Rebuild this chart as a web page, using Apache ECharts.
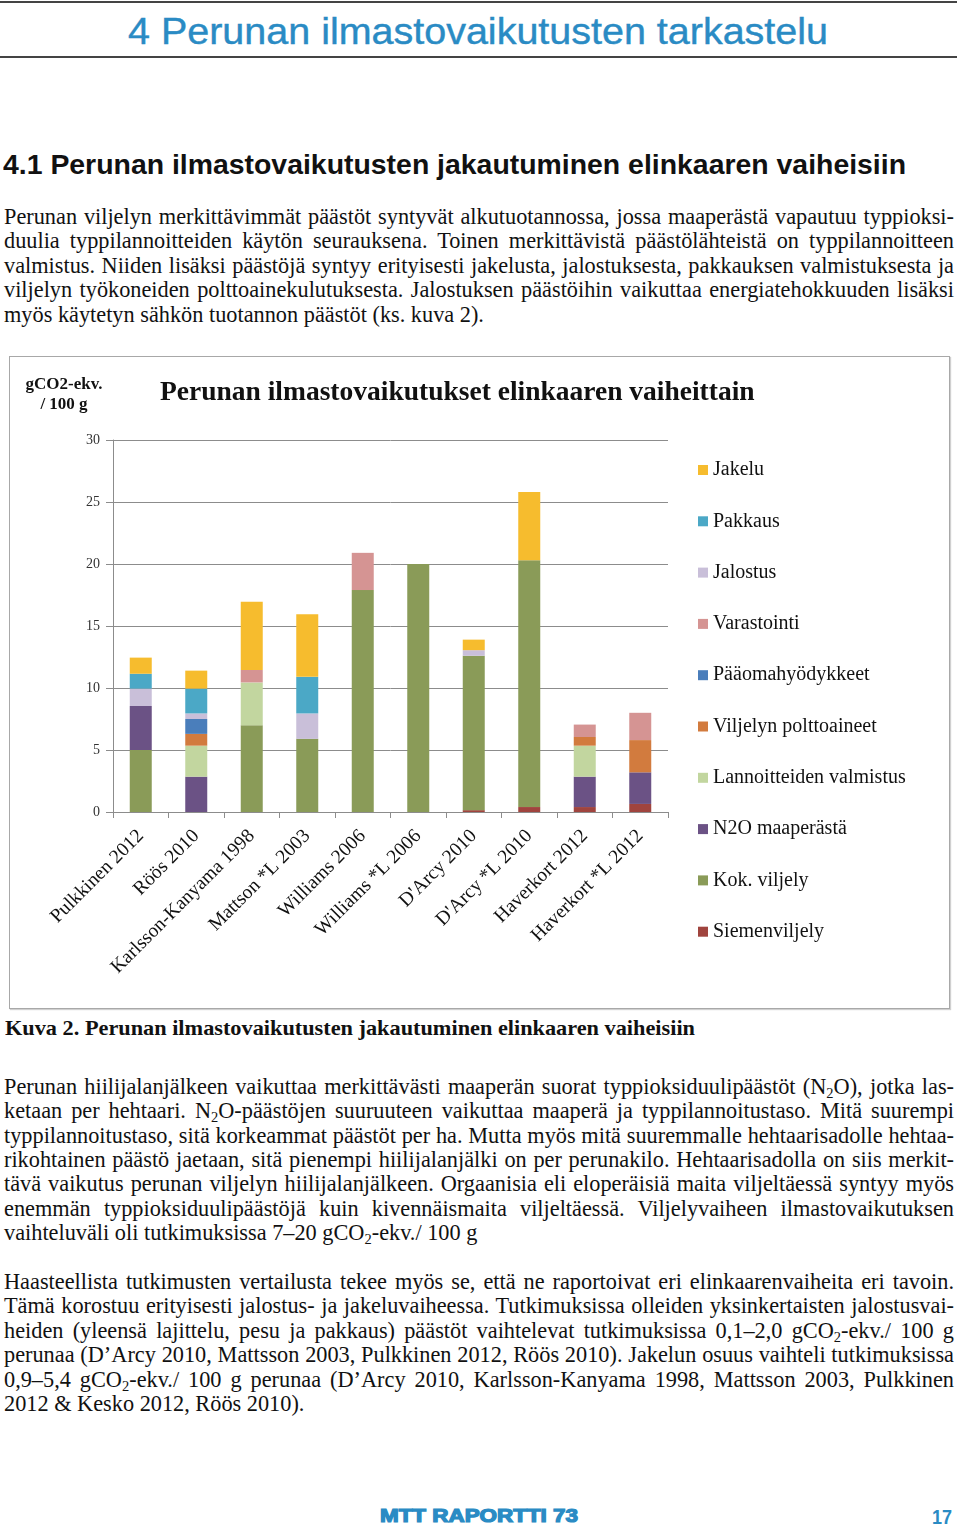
<!DOCTYPE html>
<html>
<head>
<meta charset="utf-8">
<script src="https://cdn.jsdelivr.net/npm/echarts@6/dist/echarts.min.js"></script>
<style>
  html, body { margin: 0; padding: 0; background: #fff; }
  body { width: 960px; height: 1526px; position: relative; overflow: hidden; }
  .ln { position: absolute; white-space: nowrap; }
  .serif { font-family: "Liberation Serif", "Times New Roman", serif; color: #111; }
  .sans { font-family: "Liberation Sans", Arial, sans-serif; }
  .rule { position: absolute; left: 0; width: 957px; background: #444; }
  sub { font-size: 0.65em; vertical-align: -0.25em; line-height: 0; }
  #box { position: absolute; left: 9px; top: 356px; width: 941px; height: 653px; box-sizing: border-box;
         border: 1.5px solid #a8a8a8; box-shadow: 1px 1px 1px #d0d0d0; }
  #chart { position: absolute; left: 10px; top: 357px; width: 940px; height: 652px; }
</style>
</head>
<body>
<div class="rule" style="top:1px;height:2px;"></div>
<div class="ln sans fit" data-x="128" data-w="700" data-cy="31" style="font-size:36px;color:#2a8bc4;-webkit-text-stroke:0.4px #2a8bc4;">4 Perunan ilmastovaikutusten tarkastelu</div>
<div class="rule" style="top:56px;height:2px;"></div>

<div class="ln sans fit" data-x="3" data-w="903" data-cy="165" style="font-size:28px;font-weight:bold;color:#111;">4.1 Perunan ilmastovaikutusten jakautuminen elinkaaren vaiheisiin</div>

<div class="ln serif just" data-cy="217">Perunan viljelyn merkittävimmät päästöt syntyvät alkutuotannossa, jossa maaperästä vapautuu typpioksi-</div>
<div class="ln serif just" data-cy="241">duulia typpilannoitteiden käytön seurauksena. Toinen merkittävistä päästölähteistä on typpilannoitteen</div>
<div class="ln serif just" data-cy="266">valmistus. Niiden lisäksi päästöjä syntyy erityisesti jakelusta, jalostuksesta, pakkauksen valmistuksesta ja</div>
<div class="ln serif just" data-cy="290">viljelyn työkoneiden polttoainekulutuksesta. Jalostuksen päästöihin vaikuttaa energiatehokkuuden lisäksi</div>
<div class="ln serif last" data-cy="315">myös käytetyn sähkön tuotannon päästöt (ks. kuva 2).</div>

<div id="box"></div>
<div id="chart"></div>

<div class="ln serif fit" data-x="5" data-w="690" data-cy="1028" style="font-size:21px;font-weight:bold;">Kuva 2. Perunan ilmastovaikutusten jakautuminen elinkaaren vaiheisiin</div>

<div class="ln serif just" data-cy="1087">Perunan hiilijalanjälkeen vaikuttaa merkittävästi maaperän suorat typpioksiduulipäästöt (N<sub>2</sub>O), jotka las-</div>
<div class="ln serif just" data-cy="1111">ketaan per hehtaari. N<sub>2</sub>O-päästöjen suuruuteen vaikuttaa maaperä ja typpilannoitustaso. Mitä suurempi</div>
<div class="ln serif just" data-cy="1136">typpilannoitustaso, sitä korkeammat päästöt per ha. Mutta myös mitä suuremmalle hehtaarisadolle hehtaa-</div>
<div class="ln serif just" data-cy="1160">rikohtainen päästö jaetaan, sitä pienempi hiilijalanjälki on per perunakilo. Hehtaarisadolla on siis merkit-</div>
<div class="ln serif just" data-cy="1184">tävä vaikutus perunan viljelyn hiilijalanjälkeen. Orgaanisia eli eloperäisiä maita viljeltäessä syntyy myös</div>
<div class="ln serif just" data-cy="1209">enemmän typpioksiduulipäästöjä kuin kivennäismaita viljeltäessä. Viljelyvaiheen ilmastovaikutuksen</div>
<div class="ln serif last" data-cy="1233">vaihteluväli oli tutkimuksissa 7–20 gCO<sub>2</sub>-ekv./ 100 g</div>

<div class="ln serif just" data-cy="1282">Haasteellista tutkimusten vertailusta tekee myös se, että ne raportoivat eri elinkaarenvaiheita eri tavoin.</div>
<div class="ln serif just" data-cy="1306">Tämä korostuu erityisesti jalostus- ja jakeluvaiheessa. Tutkimuksissa olleiden yksinkertaisten jalostusvai-</div>
<div class="ln serif just" data-cy="1331">heiden (yleensä lajittelu, pesu ja pakkaus) päästöt vaihtelevat tutkimuksissa 0,1–2,0 gCO<sub>2</sub>-ekv./ 100 g</div>
<div class="ln serif just" data-cy="1355">perunaa (D’Arcy 2010, Mattsson 2003, Pulkkinen 2012, Röös 2010). Jakelun osuus vaihteli tutkimuksissa</div>
<div class="ln serif just" data-cy="1380">0,9–5,4 gCO<sub>2</sub>-ekv./ 100 g perunaa (D’Arcy 2010, Karlsson-Kanyama 1998, Mattsson 2003, Pulkkinen</div>
<div class="ln serif last" data-cy="1404">2012 &amp; Kesko 2012, Röös 2010).</div>

<div class="ln sans fit" data-x="380" data-w="198" data-cy="1516" style="font-size:18px;font-weight:bold;color:#2a8bc4;-webkit-text-stroke:1.2px #2a8bc4;">MTT RAPORTTI 73</div>
<div class="ln sans fit" data-x="932" data-w="20" data-cy="1516" style="font-size:21px;font-weight:bold;color:#2a8bc4;">17</div>

<script>
// ---- Layout of the page text ----
(function () {
  var BODY_FS = 22.3, LH = 24, LEFT = 4, WIDTH = 950;
  document.querySelectorAll('.ln').forEach(function (el) {
    var cy = parseFloat(el.dataset.cy);
    if (el.classList.contains('just') || el.classList.contains('last')) {
      el.style.fontSize = BODY_FS + 'px';
    }
    el.style.lineHeight = LH + 'px';
    var h = LH;
    if (el.classList.contains('fit')) {
      var fs = parseFloat(getComputedStyle(el).fontSize);
      h = Math.round(fs * 1.2);
      el.style.lineHeight = h + 'px';
    }
    el.style.top = (cy - h / 2) + 'px';
    if (el.classList.contains('fit')) {
      el.style.left = el.dataset.x + 'px';
      var w = el.getBoundingClientRect().width;
      var s = parseFloat(el.dataset.w) / w;
      el.style.transformOrigin = '0 50%';
      el.style.transform = 'scaleX(' + s + ')';
    } else if (el.classList.contains('just')) {
      el.style.left = LEFT + 'px';
      var w2 = el.getBoundingClientRect().width;
      var spaces = (el.textContent.match(/ /g) || []).length;
      if (spaces > 0) el.style.wordSpacing = ((WIDTH - w2) / spaces) + 'px';
    } else {
      el.style.left = LEFT + 'px';
    }
  });
})();

// ---- Chart data ----
var categories = ['Pulkkinen 2012', 'Röös 2010', 'Karlsson-Kanyama 1998', 'Mattson *L 2003', 'Williams 2006',
                  'Williams *L 2006', "D'Arcy 2010", "D'Arcy *L 2010", 'Haverkort 2012', 'Haverkort *L 2012'];
var siemenviljely = [0, 0, 0, 0, 0, 0, 0.15, 0.4, 0.4, 0.65];
var kokViljely    = [5.0, 0, 7.0, 5.9, 17.9, 20.0, 12.45, 19.9, 0, 0];
var n2oMaaperasta = [3.55, 2.85, 0, 0, 0, 0, 0, 0, 2.45, 2.55];
var lannoitteet   = [0, 2.5, 3.45, 0, 0, 0, 0, 0, 2.5, 0];
var polttoaineet  = [0, 0.95, 0, 0, 0, 0, 0, 0, 0.7, 2.6];
var paaomahyod    = [0, 1.2, 0, 0, 0, 0, 0, 0, 0, 0];
var varastointi   = [0, 0, 1.0, 0, 3.0, 0, 0, 0, 1.0, 2.2];
var jalostus      = [1.4, 0.45, 0, 2.05, 0, 0, 0.45, 0, 0, 0];
var pakkaus       = [1.2, 2.0, 0, 2.95, 0, 0, 0, 0, 0, 0];
var jakelu        = [1.3, 1.45, 5.5, 5.05, 0, 0, 0.85, 5.5, 0, 0];
var yTicks = [0, 5, 10, 15, 20, 25, 30];

var seriesDefs = [
  ['Siemenviljely', siemenviljely, '#a0443e'],
  ['Kok. viljely', kokViljely, '#8a9b58'],
  ['N2O maaperästä', n2oMaaperasta, '#6b5285'],
  ['Lannoitteiden valmistus', lannoitteet, '#c2d69f'],
  ['Viljelyn polttoaineet', polttoaineet, '#d27b3e'],
  ['Pääomahyödykkeet', paaomahyod, '#4a7ebb'],
  ['Varastointi', varastointi, '#d59493'],
  ['Jalostus', jalostus, '#c9bfd9'],
  ['Pakkaus', pakkaus, '#4ba8c6'],
  ['Jakelu', jakelu, '#f6bc2e']
];

var SERIF = '"Liberation Serif", "Times New Roman", serif';
var chart = echarts.init(document.getElementById('chart'), null, { renderer: 'canvas' });
chart.setOption({
  animation: false,
  title: {
    text: 'Perunan ilmastovaikutukset elinkaaren vaiheittain',
    left: 145, top: 17,
    textStyle: { fontFamily: SERIF, fontSize: 27.5, fontWeight: 'bold', color: '#111' }
  },
  graphic: [{
    type: 'text', x: 54, y: 18,
    style: { text: 'gCO2-ekv.\n/ 100 g', font: 'bold 17px ' + SERIF, fill: '#111',
             textAlign: 'center', textVerticalAlign: 'top', lineHeight: 20 }
  }],
  legend: {
    orient: 'vertical', left: 683, top: 98,
    data: seriesDefs.map(function (d) { return d[0]; }).reverse(),
    icon: 'rect', itemWidth: 10, itemHeight: 10, itemGap: 31.3,
    textStyle: { fontFamily: SERIF, fontSize: 20, color: '#111', lineHeight: 20 }
  },
  grid: { left: 103, top: 83, right: 282, bottom: 197, containLabel: false },
  xAxis: {
    type: 'category', data: categories,
    axisLine: { lineStyle: { color: '#8c8c8c', width: 1 } },
    axisTick: { show: true, alignWithLabel: false, length: 6, lineStyle: { color: '#8c8c8c' } },
    axisLabel: { rotate: 45, margin: 21, fontFamily: SERIF, fontSize: 19.5, color: '#111', interval: 0 }
  },
  yAxis: {
    type: 'value', min: 0, max: 30, interval: 5,
    axisLine: { show: true, lineStyle: { color: '#8c8c8c', width: 1 } },
    axisTick: { show: true, length: 7, lineStyle: { color: '#8c8c8c' } },
    splitLine: { show: true, lineStyle: { color: '#8c8c8c', width: 1 } },
    axisLabel: { margin: 13, fontFamily: SERIF, fontSize: 14, color: '#333',
                 formatter: function (v) { return yTicks.indexOf(v) >= 0 ? String(v) : ''; } }
  },
  series: seriesDefs.map(function (d) {
    return { name: d[0], type: 'bar', stack: 'total', data: d[1], barWidth: 22,
             itemStyle: { color: d[2] } };
  })
});
</script>
</body>
</html>
